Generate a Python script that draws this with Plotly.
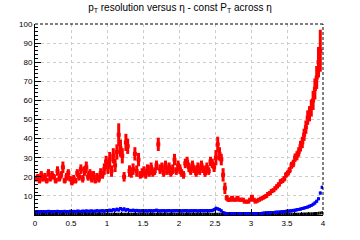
import plotly.graph_objects as go

bin_width = 0.025
n_bins = 160
eta = [bin_width * (i + 0.5) for i in range(n_bins)]

red = [
    19, 20, 18, 21, 19, 20, 18, 22, 19, 21, 20, 18, 23, 19, 21, 25, 18, 20, 22, 19,
    17, 19, 18, 22, 20, 24, 19, 23, 25, 20, 22, 19, 21, 18, 20, 19, 22, 21, 24, 28,
    25, 29, 23, 31, 26, 33, 42, 35, 31, 20, 38, 36, 23, 22, 24, 32, 23, 29, 21, 22,
    23, 21, 24, 22, 25, 22, 23, 26, 37, 24, 25, 22, 26, 23, 25, 22, 24, 29, 23, 26,
    24, 22, 21, 27, 28, 25, 23, 26, 24, 22, 25, 23, 26, 24, 22, 25, 23, 28, 27, 25,
    30, 37, 32, 29, 21, 14, 9, 8, 8, 9, 8, 8, 9, 8, 8, 8, 7, 7, 7, 8,
    9.5, 8, 7, 7.5, 8, 8.5, 9, 9.5, 10, 11, 11.5, 12.5, 13, 14, 15, 16, 17.5, 18, 19, 21,
    22, 23.5, 26, 27, 30, 31, 33, 36, 38, 42, 46, 51, 53, 56, 60, 66, 72, 80, 86, None,
]
red_err = [
    1.5, 1.5, 1.5, 2, 1.5, 2, 1.5, 2, 1.5, 2, 1.5, 1.5, 2.5, 1.5, 2, 3, 1.5, 2, 2, 1.5,
    1.5, 2, 1.5, 2, 2, 2.5, 2, 2.5, 3, 2, 2, 2, 2, 1.5, 2, 2, 2.5, 2, 3, 3,
    3.5, 4, 3, 4, 3.5, 4, 6, 4.5, 4, 2.5, 4.5, 4, 3, 2.5, 3, 3.5, 3, 3.5, 2, 2.5,
    2.5, 2, 2.5, 2, 2.5, 2, 2, 2.5, 3.5, 2.5, 2.5, 2, 2.5, 2, 2.5, 2, 2.5, 3, 2, 2.5,
    2.5, 2, 2, 2.5, 2.5, 2.5, 2, 2.5, 2, 2, 2.5, 2, 2.5, 2, 2, 2.5, 2, 2.5, 2.5, 2.5,
    4, 4, 3.5, 3, 3.5, 3, 1.5, 1, 0.8, 0.8, 0.7, 0.7, 0.8, 0.7, 0.7, 0.7, 0.7, 0.7, 0.7, 0.7,
    0.8, 0.7, 0.7, 0.7, 0.7, 0.7, 0.8, 0.8, 0.8, 0.9, 0.9, 1, 1, 1, 1.1, 1.2, 1.3, 1.3, 1.4, 1.5,
    1.5, 1.6, 1.8, 2, 2.2, 2.4, 2.5, 2.8, 3, 3.2, 3.5, 3.8, 4, 4.5, 5, 5.5, 6, 8, 11, 0,
]
blue = [
    1.7, 1.8, 1.7, 1.8, 1.8, 1.7, 1.8, 1.9, 1.8, 1.7, 1.8, 1.8, 1.9, 1.8, 1.7, 1.8, 1.9, 1.8, 1.8, 1.9,
    1.8, 1.9, 1.8, 2.0, 1.9, 1.8, 2.0, 1.9, 2.1, 1.9, 2.0, 2.1, 1.9, 2.0, 2.2, 2.0, 2.1, 2.2, 2.0, 2.3,
    2.2, 2.5, 2.3, 2.8, 2.5, 3.0, 2.6, 3.4, 2.7, 3.2, 2.5, 2.9, 2.4, 2.3, 2.5, 2.2, 2.4, 2.2, 2.1, 2.2,
    2.1, 2.2, 2.1, 2.3, 2.2, 2.1, 2.3, 2.5, 2.2, 2.1, 2.2, 2.3, 2.1, 2.2, 2.3, 2.1, 2.2, 2.2, 2.3, 2.2,
    2.2, 2.1, 2.2, 2.3, 2.2, 2.1, 2.2, 2.2, 2.3, 2.2, 2.1, 2.2, 2.3, 2.2, 2.2, 2.3, 2.2, 2.3, 2.4, 2.8,
    3.5, 3.2, 2.8, 2.2, 1.3, 0.9, 0.8, 0.8, 0.8, 0.8, 0.8, 0.8, 0.8, 0.8, 0.8, 0.8, 0.8, 0.8, 0.8, 0.8,
    0.8, 0.8, 0.8, 0.8, 0.8, 0.8, 0.9, 1.0, 1.1, 1.2, 1.2, 1.3, 1.3, 1.4, 1.5, 1.5, 1.6, 1.7, 1.8, 1.9,
    2.0, 2.1, 2.2, 2.4, 2.5, 2.7, 2.9, 3.1, 3.4, 3.6, 3.9, 4.2, 4.6, 5.0, 5.6, 6.3, 7.2, 8.5, 11.5, 14.5,
]
black = [0.4] * 148 + [0.45, 0.5, 0.5, 0.55, 0.6, 0.65, 0.7, 0.75, 0.8, 0.9, 1.0, 1.2]

x_ticks = [0, 0.5, 1, 1.5, 2, 2.5, 3, 3.5, 4]
x_labels = ["0", "0.5", "1", "1.5", "2", "2.5", "3", "3.5", "4"]
y_ticks = [10, 20, 30, 40, 50, 60, 70, 80, 90, 100]
y_labels = ["10", "20", "30", "40", "50", "60", "70", "80", "90", "100"]

fig = go.Figure()

fig.add_trace(go.Scatter(
    x=eta, y=black, mode="markers",
    marker=dict(color="black", size=1),
    error_x=dict(type="constant", value=bin_width / 2, thickness=3, width=0, color="black"),
    showlegend=False,
))
fig.add_trace(go.Scatter(
    x=eta, y=blue, mode="markers",
    marker=dict(color="blue", size=3, symbol="square"),
    error_x=dict(type="constant", value=bin_width / 2, thickness=3, width=0, color="blue"),
    error_y=dict(type="constant", value=0.3, thickness=2, width=0, color="blue"),
    showlegend=False,
))
fig.add_trace(go.Scatter(
    x=eta, y=red, mode="markers",
    marker=dict(color="red", size=4, symbol="square"),
    error_x=dict(type="constant", value=bin_width / 2, thickness=2.5, width=0, color="red"),
    error_y=dict(type="data", array=red_err, thickness=3, width=0, color="red"),
    showlegend=False,
))

axis_font = dict(family="Liberation Sans, Arial, sans-serif", size=8, color="black")

fig.update_layout(
    width=360, height=240,
    margin=dict(l=35, r=37, t=24, b=25),
    paper_bgcolor="white", plot_bgcolor="white",
    title=dict(
        text="p<sub>T</sub> resolution versus η - const P<sub>T</sub> across η",
        font=dict(family="Liberation Sans, Arial, sans-serif", size=10, color="black"),
        x=0.5, xanchor="center", y=0.97, yanchor="middle", yref="container",
    ),
    xaxis=dict(
        range=[0, 4], tickvals=x_ticks, ticktext=x_labels,
        showline=True, linecolor="black", linewidth=1, mirror=False,
        ticks="inside", ticklen=6, tickcolor="black",
        minor=dict(dtick=0.1, ticks="inside", ticklen=3, tickcolor="black", showgrid=False),
        showgrid=True, gridcolor="#cccccc", griddash="dot", gridwidth=1,
        zeroline=False, tickfont=axis_font,
    ),
    yaxis=dict(
        range=[0, 100], tickvals=y_ticks, ticktext=y_labels,
        showline=True, linecolor="black", linewidth=1, mirror=False,
        ticks="inside", ticklen=6, tickcolor="black",
        minor=dict(dtick=2, ticks="inside", ticklen=3, tickcolor="black", showgrid=False),
        showgrid=True, gridcolor="#cccccc", griddash="dot", gridwidth=1,
        zeroline=False, tickfont=axis_font,
    ),
    shapes=[
        dict(type="line", xref="paper", yref="paper", x0=0, x1=1, y0=1, y1=1,
             line=dict(color="black", width=1, dash="3px,2px")),
        dict(type="line", xref="paper", yref="paper", x0=1, x1=1, y0=0, y1=1,
             line=dict(color="black", width=1, dash="3px,2px")),
    ],
)

fig.write_html("out.html")
